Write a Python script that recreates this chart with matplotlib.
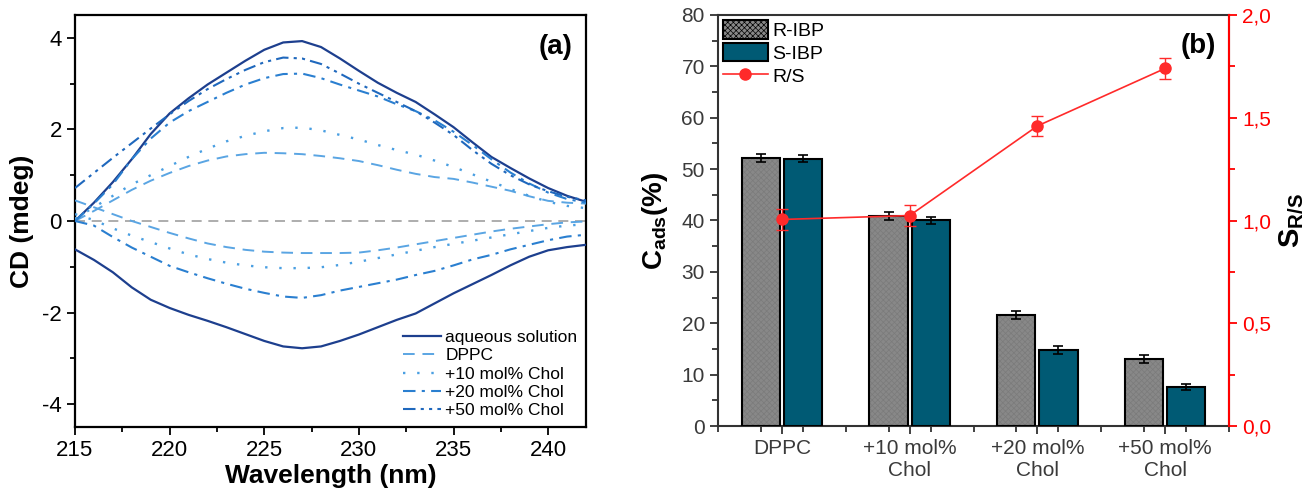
import numpy as np
import matplotlib
matplotlib.use("Agg")
import matplotlib.pyplot as plt
from matplotlib.lines import Line2D
from matplotlib.patches import Patch

plt.rcParams['font.family'] = ['Liberation Sans', 'DejaVu Sans']
plt.rcParams['mathtext.fontset'] = 'custom'
plt.rcParams['mathtext.rm'] = 'Liberation Sans'
plt.rcParams['mathtext.bf'] = 'Liberation Sans:bold'
plt.rcParams['mathtext.it'] = 'Liberation Sans:italic'
plt.rcParams['axes.unicode_minus'] = False
plt.rcParams['hatch.linewidth'] = 0.5

# ---------------- (a) CD spectra ----------------
wavelength = np.arange(215, 244, 1)

aqueous_pos = [0.00, 0.40, 0.85, 1.35, 1.90, 2.35, 2.68, 2.98, 3.24, 3.50, 3.74, 3.90, 3.93, 3.80,
               3.55, 3.28, 3.02, 2.80, 2.60, 2.33, 2.05, 1.72, 1.40, 1.16, 0.93, 0.72, 0.55, 0.42, 0.34]
aqueous_neg = [-0.62, -0.85, -1.12, -1.45, -1.72, -1.90, -2.05, -2.18, -2.32, -2.47, -2.62, -2.74, -2.78, -2.74,
               -2.62, -2.48, -2.32, -2.16, -2.02, -1.80, -1.58, -1.38, -1.18, -0.97, -0.78, -0.64, -0.57, -0.52, -0.48]
dppc_pos = [0.00, 0.22, 0.45, 0.68, 0.88, 1.05, 1.20, 1.32, 1.41, 1.46, 1.49, 1.48, 1.46, 1.42,
            1.37, 1.31, 1.22, 1.12, 1.03, 0.96, 0.92, 0.84, 0.75, 0.66, 0.54, 0.44, 0.40, 0.38, 0.36]
dppc_neg = [0.45, 0.30, 0.15, 0.00, -0.13, -0.26, -0.38, -0.49, -0.57, -0.63, -0.67, -0.69, -0.70, -0.70,
            -0.70, -0.69, -0.64, -0.58, -0.51, -0.44, -0.37, -0.30, -0.23, -0.17, -0.12, -0.07, -0.03, -0.01, 0.00]
chol10_pos = [0.05, 0.30, 0.55, 0.80, 1.00, 1.20, 1.40, 1.58, 1.74, 1.86, 1.96, 2.03, 2.04, 1.98,
              1.88, 1.78, 1.66, 1.55, 1.45, 1.32, 1.18, 1.02, 0.86, 0.70, 0.55, 0.42, 0.33, 0.28, 0.25]
chol10_neg = [0.15, 0.02, -0.16, -0.32, -0.46, -0.60, -0.73, -0.83, -0.91, -0.97, -1.01, -1.03, -1.03, -1.01,
              -0.96, -0.89, -0.81, -0.73, -0.65, -0.57, -0.50, -0.43, -0.36, -0.29, -0.22, -0.15, -0.10, -0.07, -0.05]
chol20_pos = [0.00, 0.38, 0.80, 1.35, 1.80, 2.15, 2.40, 2.60, 2.80, 2.98, 3.12, 3.21, 3.22, 3.12,
              2.98, 2.85, 2.72, 2.55, 2.40, 2.20, 1.95, 1.66, 1.35, 1.06, 0.82, 0.62, 0.48, 0.40, 0.35]
chol20_neg = [0.00, -0.10, -0.35, -0.58, -0.78, -0.98, -1.12, -1.25, -1.37, -1.48, -1.57, -1.65, -1.68, -1.62,
              -1.52, -1.44, -1.36, -1.28, -1.18, -1.09, -0.97, -0.84, -0.74, -0.62, -0.52, -0.42, -0.34, -0.30, -0.27]
chol50_pos = [0.72, 1.05, 1.38, 1.70, 2.02, 2.33, 2.62, 2.88, 3.10, 3.30, 3.47, 3.57, 3.55, 3.43,
              3.22, 3.00, 2.80, 2.60, 2.40, 2.15, 1.88, 1.55, 1.25, 1.00, 0.80, 0.65, 0.53, 0.45, 0.40]

# ---------------- (b) adsorption ----------------
categories = ['DPPC', '+10 mol%\nChol', '+20 mol%\nChol', '+50 mol%\nChol']
r_ibp = [52.2, 40.9, 21.6, 13.1]
r_ibp_err = [0.8, 0.8, 0.7, 0.8]
s_ibp = [52.0, 40.0, 14.8, 7.6]
s_ibp_err = [0.7, 0.7, 0.7, 0.6]
ratio_rs = [1.005, 1.024, 1.46, 1.74]
ratio_err = [0.05, 0.05, 0.05, 0.05]

fig = plt.figure(figsize=(13.1, 4.94), dpi=100)
W, H = 1310, 494

def box(l, r, t, b):
    return [l / W, 1 - b / H, (r - l) / W, (b - t) / H]

# ---- panel (a)
ax = fig.add_axes(box(75, 586, 15, 427))
styles = [
    ('aqueous solution', aqueous_pos, aqueous_neg, '#1d3f8e', '-', 1.6),
    ('DPPC', dppc_pos, dppc_neg, '#5aa5e3', (0, (6, 4)), 1.4),
    ('+10 mol% Chol', chol10_pos, chol10_neg, '#4a9fe2', (0, (1.0, 5.0)), 1.7),
    ('+20 mol% Chol', chol20_pos, chol20_neg, '#2a7fd0', (0, (6, 3, 1.5, 3)), 1.5),
    ('+50 mol% Chol', chol50_pos, None, '#1f68bd', (0, (6, 2.5, 1.5, 2.5, 1.5, 2.5)), 1.5),
]
ax.axhline(0, color='#a0a0a0', lw=1.2, ls=(0, (6, 4)), zorder=1)
handles = []
for label, pos, neg, col, ls, lw in styles:
    ax.plot(wavelength, pos, color=col, ls=ls, lw=lw, zorder=3)
    if neg is not None:
        ax.plot(wavelength, neg, color=col, ls=ls, lw=lw, zorder=3)
    handles.append(Line2D([], [], color=col, ls=ls, lw=lw, label=label))

ax.set_xlim(215, 242)
ax.set_ylim(-4.5, 4.5)
ax.set_xticks([215, 220, 225, 230, 235, 240])
ax.set_xticks(np.arange(217.5, 242.1, 5), minor=True)
ax.set_yticks([-4, -2, 0, 2, 4])
ax.set_yticks([-3, -1, 1, 3], minor=True)
ax.tick_params(which='both', direction='out', top=False, right=False, labelsize=16, width=1.3)
ax.tick_params(which='major', length=6)
ax.tick_params(which='minor', length=3.5)
for s in ax.spines.values():
    s.set_linewidth(1.6)
ax.set_xlabel('Wavelength (nm)', fontsize=19, fontweight='bold', labelpad=2)
ax.set_ylabel('CD (mdeg)', fontsize=19, fontweight='bold', labelpad=6)
ax.text(0.973, 0.955, '(a)', transform=ax.transAxes, ha='right', va='top',
        fontsize=20, fontweight='bold')
ax.legend(handles=handles, loc='lower right', frameon=False, fontsize=12.5,
          handlelength=2.2, handletextpad=0.25, labelspacing=0.18,
          borderaxespad=0.1, bbox_to_anchor=(1.0, 0.0))

# ---- panel (b)
bx = fig.add_axes(box(718, 1229, 15, 426))
x = np.arange(1, len(categories) + 1)
bw = 0.3
off = 0.165
grey = '#888888'
teal = '#005a74'
bx.bar(x - off, r_ibp, bw, color=grey, edgecolor='#7b7b7b', hatch='xxxxxx', lw=0, zorder=2)
bx.bar(x - off, r_ibp, bw, facecolor='none', edgecolor='black', lw=1.5, zorder=3)
bx.errorbar(x - off, r_ibp, yerr=r_ibp_err, fmt='none', ecolor='black', elinewidth=1.2,
            capsize=3.5, capthick=1.2, zorder=4)
bx.bar(x + off, s_ibp, bw, color=teal, edgecolor='black', lw=1.5, zorder=3)
bx.errorbar(x + off, s_ibp, yerr=s_ibp_err, fmt='none', ecolor='black', elinewidth=1.2,
            capsize=3.5, capthick=1.2, zorder=4)

bx.set_xlim(0.5, 4.5)
bx.set_ylim(0, 80)
bx.set_yticks(np.arange(0, 81, 10))
bx.set_yticks(np.arange(5, 80, 10), minor=True)
bx.set_xticks(x)
bx.set_xticklabels(categories)
bx.set_xticks(np.concatenate([x - off, x + off, np.arange(0.5, 4.6, 0.5)]), minor=True)
bx.tick_params(which='both', direction='out', top=False, right=False, labelsize=15,
               labelcolor='#3a3a3a', width=1.3, color='#333333')
bx.tick_params(which='major', length=6)
bx.tick_params(which='minor', length=4)
for name, s in bx.spines.items():
    s.set_linewidth(1.5)
    s.set_color('#333333')
bx.set_ylabel(r'$\mathbf{C_{ads}}$' + '(%)', fontsize=20, fontweight='bold', labelpad=8)

rx = bx.twinx()
rx.errorbar(x, ratio_rs, yerr=ratio_err, color='#ff2a2a', marker='o', ms=8, lw=1.2,
            elinewidth=1.0, capsize=4, capthick=1.0, ecolor='#ff2a2a', zorder=5)
rx.set_ylim(0, 2.0)
rx.set_yticks(np.arange(0, 2.01, 0.5))
rx.set_yticklabels(['0,0', '0,5', '1,0', '1,5', '2,0'])
rx.set_yticks(np.arange(0.25, 2.0, 0.5), minor=True)
rx.tick_params(which='both', direction='out', colors='red', labelsize=15, width=1.3)
rx.tick_params(which='major', length=6)
rx.tick_params(which='minor', length=4)
rx.spines['right'].set_color('red')
rx.spines['right'].set_linewidth(1.5)
for k in ('top', 'left', 'bottom'):
    rx.spines[k].set_visible(False)
rx.set_ylabel(r'$\mathbf{S_{R/S}}$', fontsize=21, labelpad=4)
bx.text(0.975, 0.955, '(b)', transform=bx.transAxes, ha='right', va='top',
        fontsize=20, fontweight='bold')

leg_handles = [
    Patch(facecolor=grey, edgecolor='black', lw=1.5, hatch='xxxxxx', label='R-IBP'),
    Patch(facecolor=teal, edgecolor='black', lw=1.5, label='S-IBP'),
    Line2D([], [], color='#ff2a2a', marker='o', ms=8, lw=1.2, label='R/S'),
]
bx.legend(handles=leg_handles, loc='upper left', frameon=False, fontsize=14,
          handlelength=2.3, handleheight=1.1, handletextpad=0.25, labelspacing=0.15,
          borderaxespad=0.1, borderpad=0.15)

fig.savefig('out.png', dpi=100)
